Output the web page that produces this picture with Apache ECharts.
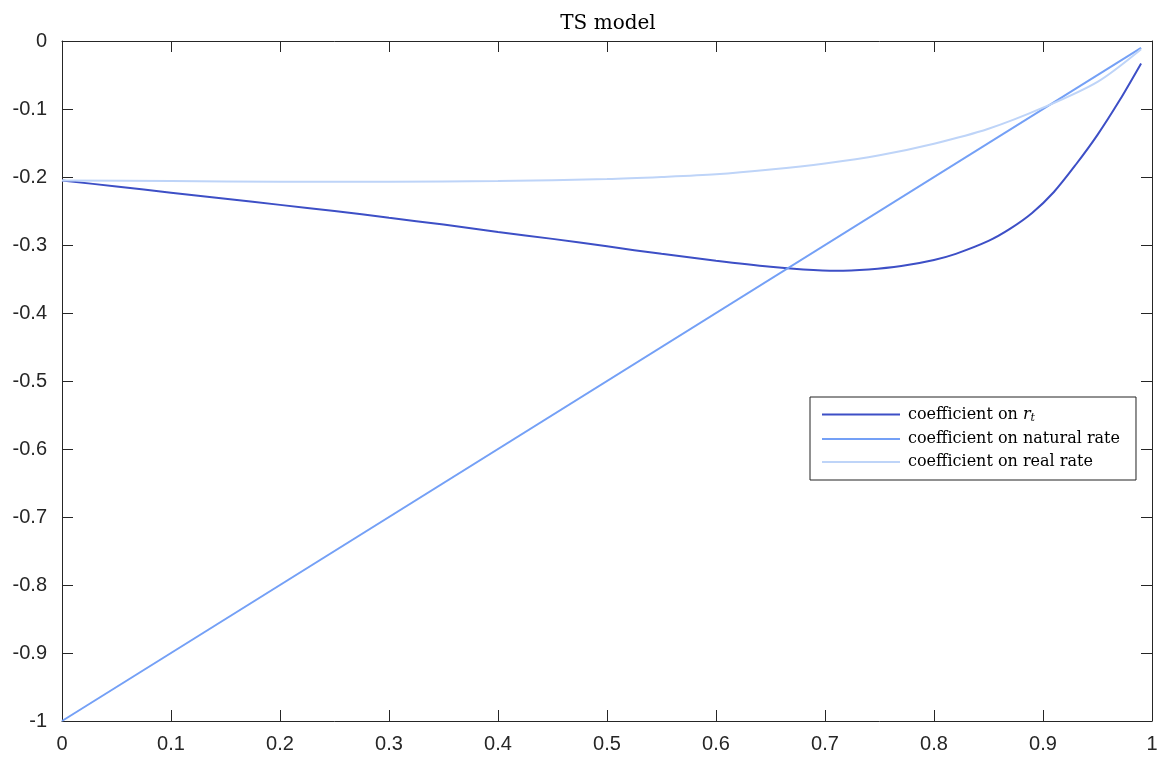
<!DOCTYPE html>
<html>
<head>
<meta charset="utf-8">
<title>TS model</title>
<script src="https://cdn.jsdelivr.net/npm/echarts@6/dist/echarts.min.js"></script>
<style>
  html, body { margin: 0; padding: 0; background: #fff; }
  #chart { width: 1173px; height: 762px; }
</style>
</head>
<body>
<div id="chart"></div>
<script>
// values
const rtX = [0, 0.05, 0.1, 0.15, 0.2, 0.25, 0.3, 0.35, 0.4, 0.45, 0.5, 0.55, 0.6, 0.65, 0.68, 0.71, 0.74, 0.77, 0.8, 0.82, 0.85, 0.87, 0.89, 0.91, 0.93, 0.95, 0.97, 0.99];
const rtY = [-0.205, -0.214, -0.223, -0.232, -0.241, -0.250, -0.260, -0.270, -0.281, -0.291, -0.302, -0.313, -0.323, -0.332, -0.336, -0.338, -0.336, -0.331, -0.322, -0.313, -0.294, -0.276, -0.253, -0.222, -0.182, -0.138, -0.088, -0.033];

const naturalX = [0, 0.99];
const naturalY = [-1, -0.01];

const realX = [0, 0.1, 0.2, 0.3, 0.4, 0.5, 0.55, 0.6, 0.65, 0.7, 0.75, 0.8, 0.85, 0.9, 0.95, 0.99];
const realY = [-0.205, -0.206, -0.207, -0.207, -0.206, -0.203, -0.200, -0.196, -0.189, -0.180, -0.168, -0.151, -0.129, -0.098, -0.060, -0.012];

const seriesNames = ["coefficient on r_t", "coefficient on natural rate", "coefficient on real rate"];
const colors = ["#3d4fc6", "#74a0f6", "#bed4f8"];

const pairs = (xs, ys) => xs.map((x, i) => [x, ys[i]]);

const axisColor = "#262626";
const serif = "DejaVu Serif, Liberation Serif, serif";
const labelFont = { color: axisColor, fontSize: 20, fontFamily: "Liberation Sans, Arial, sans-serif" };

const chart = echarts.init(document.getElementById("chart"));
chart.setOption({
  animation: false,
  title: {
    text: "TS model",
    left: 603,
    textAlign: "center",
    top: 9,
    textStyle: { fontFamily: serif, fontWeight: "normal", fontSize: 20, color: "#000" },
  },
  grid: { left: 62, right: 21, top: 41, bottom: 41 },
  legend: {
    orient: "vertical",
    left: 810,
    top: 397,
    padding: [8, 16, 10, 12],
    icon: "rect",
    itemWidth: 78,
    itemHeight: 2,
    itemGap: 7,
    borderColor: "#222",
    borderWidth: 1,
    backgroundColor: "#fff",
    data: seriesNames,
    formatter: (name) => {
      if (name === "coefficient on r_t") return "{a|coefficient on }{i|r}{s|t}";
      return "{a|" + name + "}";
    },
    textStyle: {
      fontFamily: serif,
      fontSize: 16,
      color: "#000",
      padding: [0, 0, 0, 3],
      rich: {
        a: { fontFamily: serif, fontSize: 16, color: "#000", lineHeight: 20 },
        i: { fontFamily: serif, fontStyle: "italic", fontSize: 16, color: "#000", lineHeight: 20 },
        s: { fontFamily: serif, fontStyle: "italic", fontSize: 11, color: "#000", lineHeight: 20, padding: [8, 0, 0, 0] },
      },
    },
  },
  xAxis: [
    {
      type: "value",
      min: 0,
      max: 1,
      interval: 0.1,
      axisLine: { onZero: false, lineStyle: { color: axisColor, width: 1 } },
      axisTick: { inside: true, length: 11, lineStyle: { color: axisColor } },
      axisLabel: Object.assign({ margin: 13 }, labelFont),
      splitLine: { show: false },
    },
    {
      type: "value",
      position: "top",
      min: 0,
      max: 1,
      interval: 0.1,
      axisLine: { onZero: false, lineStyle: { color: axisColor, width: 1 } },
      axisTick: { inside: true, length: 11, lineStyle: { color: axisColor } },
      axisLabel: { show: false },
      splitLine: { show: false },
    },
  ],
  yAxis: [
    {
      type: "value",
      min: -1,
      max: 0,
      interval: 0.1,
      axisLine: { show: true, onZero: false, lineStyle: { color: axisColor, width: 1 } },
      axisTick: { show: true, inside: true, length: 11, lineStyle: { color: axisColor } },
      axisLabel: Object.assign({ margin: 15 }, labelFont),
      splitLine: { show: false },
    },
    {
      type: "value",
      position: "right",
      min: -1,
      max: 0,
      interval: 0.1,
      axisLine: { show: true, onZero: false, lineStyle: { color: axisColor, width: 1 } },
      axisTick: { show: true, inside: true, length: 11, lineStyle: { color: axisColor } },
      axisLabel: { show: false },
      splitLine: { show: false },
    },
  ],
  series: [
    {
      name: seriesNames[0],
      type: "line",
      smooth: 0.3,
      symbol: "none",
      data: pairs(rtX, rtY),
      lineStyle: { color: colors[0], width: 2 },
      itemStyle: { color: colors[0] },
    },
    {
      name: seriesNames[1],
      type: "line",
      symbol: "none",
      data: pairs(naturalX, naturalY),
      lineStyle: { color: colors[1], width: 2 },
      itemStyle: { color: colors[1] },
    },
    {
      name: seriesNames[2],
      type: "line",
      smooth: 0.3,
      symbol: "none",
      data: pairs(realX, realY),
      lineStyle: { color: colors[2], width: 2 },
      itemStyle: { color: colors[2] },
    },
  ],
});
</script>
</body>
</html>
